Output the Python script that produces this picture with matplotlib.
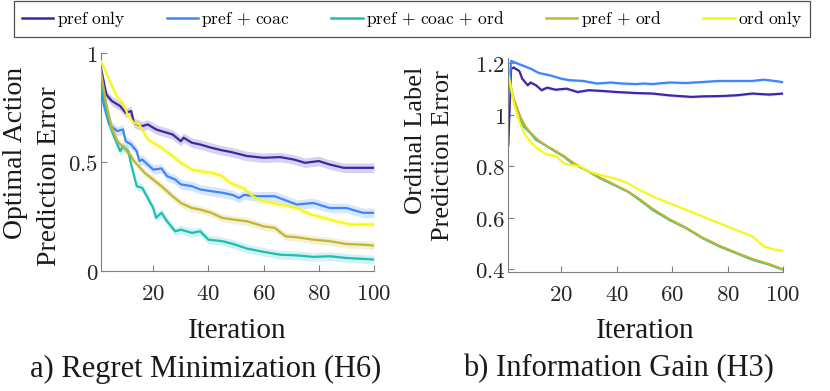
import numpy as np
import matplotlib
matplotlib.use("Agg")
import matplotlib.pyplot as plt
from matplotlib.ticker import FuncFormatter, FixedLocator

plt.rcParams['mathtext.fontset'] = 'cm'

# ---------------- data ----------------
labels = ["pref only", "pref + coac", "pref + coac + ord", "pref + ord", "ord only"]
legend_tex = [r"$\mathrm{pref\ only}$", r"$\mathrm{pref}\,+\,\mathrm{coac}$",
              r"$\mathrm{pref}\,+\,\mathrm{coac}\,+\,\mathrm{ord}$",
              r"$\mathrm{pref}\,+\,\mathrm{ord}$", r"$\mathrm{ord\ only}$"]
colors = ["#3e26a8", "#3d86fb", "#1fbdb5", "#c2b630", "#f7f71c"]

# Panel a) Regret Minimization (H6)
a_pref_it = [1, 2, 3, 5, 8, 10, 12, 13, 16, 18, 21, 23, 27, 30, 31, 34, 37, 41, 45, 48, 54, 60, 66, 71, 75, 80, 84, 89, 100]
a_pref_v = [.933, .872, .81, .78, .757, .726, .734, .68, .665, .673, .65, .642, .627, .596, .612, .589, .581, .566, .554, .547,
            .528, .52, .523, .512, .497, .505, .489, .474, .474]
a_coac_it = [1, 2, 4, 7, 9, 10, 12, 14, 15, 16, 20, 23, 25, 28, 30, 34, 37, 41, 45, 49, 51, 53, 57, 64, 72, 78, 84, 90, 96, 100]
a_coac_v = [.90, .765, .673, .642, .65, .596, .581, .55, .505, .512, .466, .471, .436, .42, .398, .39, .375, .367, .36, .349,
            .336, .35, .344, .344, .306, .313, .29, .29, .268, .268]
a_coacord_it = [1, 3, 5, 8, 9, 11, 12, 14, 16, 18, 20, 21, 23, 25, 28, 30, 34, 37, 40, 45, 49, 54, 60, 66, 72, 78, 84, 90, 100]
a_coacord_v = [.864, .734, .642, .55, .573, .55, .489, .39, .382, .336, .29, .245, .268, .229, .183, .191, .176, .183, .145,
               .138, .125, .104, .089, .076, .073, .066, .069, .061, .054]
a_ord2_it = [1, 3, 5, 7, 10, 12, 13, 17, 20, 23, 27, 30, 34, 37, 41, 45, 49, 54, 60, 64, 68, 72, 78, 84, 90, 96, 100]
a_ord2_v = [.917, .765, .657, .596, .558, .528, .505, .45, .42, .39, .344, .313, .29, .283, .268, .245, .237, .229, .206,
            .199, .16, .156, .145, .138, .125, .122, .118]
a_ord_it = [1, 3, 5, 7, 9, 11, 13, 15, 16, 18, 20, 23, 27, 30, 34, 37, 41, 45, 48, 53, 56, 60, 66, 72, 77, 82, 86, 92, 100]
a_ord_v = [.963, .91, .849, .795, .772, .711, .68, .673, .65, .604, .589, .566, .528, .497, .466, .459, .451, .436, .405,
           .379, .344, .321, .306, .29, .26, .245, .229, .214, .214]
a_band = [0.022, 0.022, 0.02, 0.018, 0.015]

# Panel b) Information Gain (H3)
b_pref_it = [1, 2, 3, 5, 6, 8, 9, 11, 13, 15, 18, 22, 26, 30, 35, 40, 47, 53, 59, 67, 71, 77, 83, 89, 95, 100]
b_pref_v = [.883, 1.18, 1.184, 1.17, 1.141, 1.115, 1.126, 1.115, 1.096, 1.106, 1.098, 1.102, 1.089, 1.096, 1.093, 1.089,
            1.085, 1.083, 1.076, 1.07, 1.072, 1.073, 1.076, 1.083, 1.079, 1.083]
b_coac_it = [1, 2, 5, 9, 12, 16, 20, 23, 28, 33, 38, 42, 47, 50, 53, 59, 65, 71, 77, 83, 89, 93, 97, 100]
b_coac_v = [1.038, 1.21, 1.197, 1.18, 1.163, 1.154, 1.141, 1.135, 1.132, 1.122, 1.126, 1.122, 1.12, 1.122, 1.12, 1.126,
            1.124, 1.128, 1.132, 1.132, 1.132, 1.137, 1.132, 1.127]
b_coacord_it = [1, 3, 5, 6, 9, 11, 14, 17, 21, 24, 29, 34, 39, 44, 48, 53, 59, 65, 71, 77, 83, 89, 95, 100]
b_coacord_v = [1.135, 1.057, 1.0, .961, .929, .903, .884, .864, .838, .812, .786, .754, .728, .702, .672, .631, .592, .56,
               .521, .489, .463, .437, .418, .398]
b_ord2_it = [1, 3, 5, 7, 9, 12, 15, 18, 21, 25, 30, 34, 39, 44, 48, 53, 59, 65, 71, 77, 83, 89, 95, 100]
b_ord2_v = [1.155, 1.06, 1.0, .958, .93, .9, .878, .86, .84, .81, .78, .757, .73, .703, .675, .635, .595, .562, .523, .492,
            .465, .44, .42, .40]
b_ord_it = [1, 3, 5, 7, 10, 12, 15, 18, 21, 23, 27, 30, 34, 39, 44, 48, 53, 59, 65, 71, 77, 83, 89, 93, 97, 100]
b_ord_v = [1.161, 1.045, .974, .922, .884, .864, .845, .841, .812, .806, .8, .78, .767, .754, .735, .71, .683, .657, .631,
           .605, .579, .553, .528, .489, .476, .472]
b_band = [0.005, 0.005, 0.004, 0.004, 0.003]

x_ticks = [20, 40, 60, 80, 100]
a_yticks = [0, 0.5, 1]
b_yticks = [0.4, 0.6, 0.8, 1.0, 1.2]
a_title = "a) Regret Minimization (H6)"
b_title = "b) Information Gain (H3)"
xlabel = "Iteration"

# ---------------- figure ----------------
W, H = 830, 391
fig = plt.figure(figsize=(W / 100, H / 100), dpi=100)

def fx(px):
    return px / W

def fy(py):
    return 1 - py / H

axA = fig.add_axes([fx(100.8), fy(271.3), fx(374 - 100.8), (271.3 - 53) / H])
axB = fig.add_axes([fx(508.3), fy(272.3), fx(783 - 508.3), (272.3 - 58.3) / H])

seriesA = [(a_pref_it, a_pref_v), (a_coac_it, a_coac_v), (a_coacord_it, a_coacord_v),
           (a_ord2_it, a_ord2_v), (a_ord_it, a_ord_v)]
seriesB = [(b_pref_it, b_pref_v), (b_coac_it, b_coac_v), (b_coacord_it, b_coacord_v),
           (b_ord2_it, b_ord2_v), (b_ord_it, b_ord_v)]

handles = []
for ax, series, bands in [(axA, seriesA, a_band), (axB, seriesB, b_band)]:
    for i, ((it, v), c, b) in enumerate(zip(series, colors, bands)):
        it = np.asarray(it, float)
        v = np.asarray(v, float)
        ax.fill_between(it, v - b, v + b, color=c, alpha=0.2, lw=0, zorder=1)
        ln, = ax.plot(it, v, color=c, lw=1.6, zorder=2 + (i if ax is axA else 0))
        if ax is axA:
            handles.append(ln)

tick_fmt = FuncFormatter(lambda val, pos: f"${val:g}$")
for ax, yt, ylim in [(axA, a_yticks, (0, 1)), (axB, b_yticks, (0.388, 1.22))]:
    ax.set_xlim(1, 100)
    ax.set_ylim(*ylim)
    ax.xaxis.set_major_locator(FixedLocator(x_ticks))
    ax.yaxis.set_major_locator(FixedLocator(yt))
    ax.xaxis.set_major_formatter(tick_fmt)
    ax.yaxis.set_major_formatter(tick_fmt)
    for s in ["top", "right"]:
        ax.spines[s].set_visible(False)
    for s in ["left", "bottom"]:
        ax.spines[s].set_color("#808080")
        ax.spines[s].set_linewidth(0.8)
    ax.tick_params(direction="in", length=4, width=0.8, color="#808080",
                   labelcolor="#262626", labelsize=16.5)
    ax.tick_params(axis="x", pad=8)
    ax.tick_params(axis="y", pad=2)

serif = "Liberation Serif"
lab_col = "#1a1a1a"
# y labels (two lines each)
fig.text(fx(16), fy(153), "Optimal Action", rotation=90, ha="center", va="center",
         family=serif, fontsize=20, color=lab_col)
fig.text(fx(49), fy(176), "Prediction Error", rotation=90, ha="center", va="center",
         family=serif, fontsize=20, color=lab_col)
fig.text(fx(416), fy(140), "Ordinal Label", rotation=90, ha="center", va="center",
         family=serif, fontsize=19, color=lab_col)
fig.text(fx(443), fy(156), "Prediction Error", rotation=90, ha="center", va="center",
         family=serif, fontsize=19, color=lab_col)

# x labels and panel titles
for cx in (237, 645):
    fig.text(fx(cx), fy(331), xlabel, ha="center", va="center", family=serif,
             fontsize=21, color=lab_col)
fig.text(fx(206), fy(369), a_title, ha="center", va="center", family=serif, fontsize=22, color=lab_col)
fig.text(fx(618), fy(369), b_title, ha="center", va="center", family=serif, fontsize=22, color=lab_col)

leg = fig.legend(handles, legend_tex, loc="center", ncol=5,
                 bbox_to_anchor=(fx(412), fy(19)), fontsize=12.5,
                 frameon=True, fancybox=False, edgecolor="#262626",
                 handlelength=1.8, handletextpad=0.2, columnspacing=2.4,
                 borderpad=0.45, borderaxespad=0)
leg.get_frame().set_linewidth(0.9)
for h in leg.legend_handles:
    h.set_linewidth(1.8)

fig.savefig("out.png", dpi=100)
